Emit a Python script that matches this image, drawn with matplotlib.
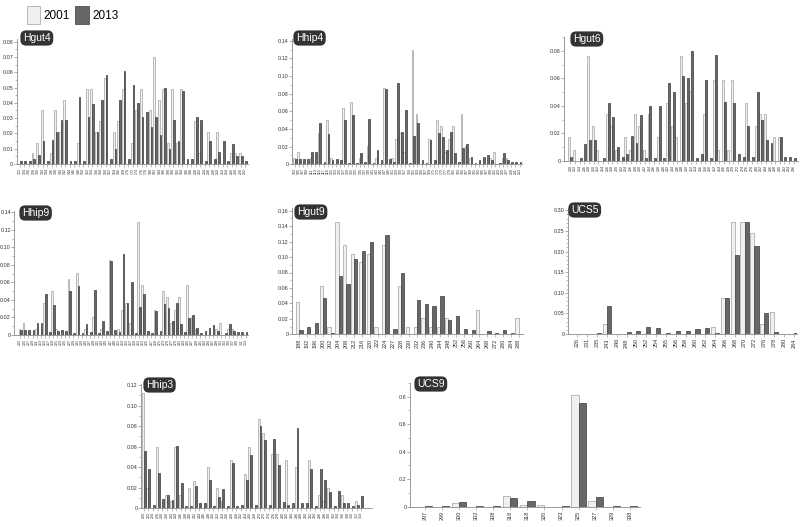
import matplotlib
matplotlib.use('Agg')
import matplotlib.pyplot as plt
import numpy as np
from matplotlib.ticker import MultipleLocator, AutoMinorLocator, FuncFormatter

plt.rcParams['font.family'] = ['Liberation Sans', 'DejaVu Sans']

# ---------------- data ----------------
hgut4_labels = "122 124 126 128 130 132 134 136 138 140 142 144 146 148 150 152 154 156 158 160 162 164 166 168 170 172 174 176 178 180 182 184 186 188 190 192 194 196 198 200 202 204 206 208 210 212 214 216 218 220 222".split()
hgut4_2001 = [0, 0, 0, .007, .014, .035, 0, .007, .035, .021, .042, 0, 0, .014, 0, .049, .049, .021, .028, .056,
              0, .021, .028, .049, 0, .014, .035, .049, 0, .035, .070, .042, .049, .014, .049, .014, .049, 0, 0, .028,
              .007, 0, .021, 0, .021, 0, 0, .007, .007, .007, 0]
hgut4_2013 = [.002, .002, .002, .003, .006, .015, .002, .016, .021, .029, .029, .002, .002, .044, .002, .031, .039, .021, .042, .058,
              .003, .010, .042, .061, .003, .052, .040, .031, .034, .024, .031, .019, .050, .010, .029, .015, .048, .003, .003, .031,
              .029, .002, .015, .003, .008, .015, .002, .013, .005, .005, .002]

hhip4_labels = "103 105 107 109 111 113 115 117 119 121 123 125 127 129 131 133 135 137 139 141 143 145 147 149 151 153 155 157 159 161 163 165 167 169 171 173 175 177 179 181 183 185 187 189 191 193 195 197 199 201 203 205 207 209 211 213".split()
hhip4_2001 = [.007, .014, 0, 0, .007, 0, .036, 0, .050, .007, 0, 0, .064, 0, .071, 0, .007, 0, .021, 0,
              .007, 0, .086, 0, .007, .029, .036, .014, 0, .129, .057, 0, 0, .029, 0, .050, .043, .014, .029, .043,
              0, .057, .021, .007, 0, 0, 0, 0, .007, .014, 0, .007, .007, 0, 0, 0]
hhip4_2013 = [.006, .006, .006, .006, .014, .014, .047, .003, .034, .005, .006, .005, .050, .002, .056, .002, .013, .003, .051, .002,
              .016, .005, .085, .006, .003, .092, .037, .061, .002, .032, .047, .005, .002, .027, .005, .035, .031, .016, .037, .013,
              .003, .019, .023, .008, .002, .005, .008, .011, .005, 0, .002, .013, .005, .003, .003, .003]

hgut6_labels = "200 202 204 206 208 210 212 214 216 218 220 222 224 226 228 230 232 234 236 238 240 242 244 246 248 250 252 254 256 258 260 262 264 266 268 270 272 274 276 278 280 282 284 286 288 290 292 294 296".split()
hgut6_2001 = [.017, .008, 0, 0, .076, .025, .008, 0, .034, .025, .008, 0, .017, .008, .034, .025, .008, .034, 0, .017,
              0, .042, .025, .017, .076, .042, .051, 0, 0, .034, 0, .059, .008, .059, .008, .059, 0, 0, .042, 0,
              .025, .034, .034, 0, .017, .017, 0, 0, 0]
hgut6_2013 = [.003, 0, .002, .012, .015, .015, 0, .002, .042, .032, .010, .003, .005, .018, .013, .033, .002, .040, .002, .040,
              .002, .057, .050, 0, .062, .060, .080, .002, .005, .059, .002, .077, 0, .043, 0, .042, .005, .003, .025, .003,
              .050, .030, .015, .013, 0, .017, .003, .003, .002]

hhip9_labels = "203 205 207 209 211 213 215 217 219 221 223 225 227 229 231 233 235 237 239 241 243 245 247 249 251 253 255 257 259 261 263 265 267 269 271 273 275 277 279 281 283 285 287 289 291 293 295 297 299 301 303 305 307 309 311 313".split()
hhip9_2001 = hhip4_2001
hhip9_2013 = hhip4_2013

hgut9_labels = ["188", "192", "196", "200", "202", "204", "208", "212", "216", "220", "222", "224", "227", "228", "230",
                "232", "236", "240", "244", "248", "252", "256", "260", "264", "268", "272", "280", "284", "288"]
hgut9_2001 = [.042, 0, 0, .063, .010, .146, .115, .104, .094, .104, .010, .115, 0, .063, .010,
              .010, .021, .010, .010, .021, 0, 0, 0, .031, 0, 0, 0, 0, .021]
hgut9_2013 = [.006, .009, .015, .047, .002, .076, .065, .097, .108, .119, 0, .129, .007, .080, 0,
              .045, .039, .037, .049, .019, .024, .007, .006, 0, .004, .002, .006, .002, 0]

ucs5_labels = ["226", "231", "235", "243", "246", "248", "250", "252", "254", "255", "256", "258", "260", "262",
               "264", "266", "268", "270", "272", "276", "278", "280", "284"]
ucs5_2001 = [0, 0, 0, .025, 0, 0, 0, 0, 0, 0, 0, 0, 0, 0, .018, .088, .272, .272, .245, .025, .053, 0, 0]
ucs5_2013 = [.001, .001, .002, .067, .001, .004, .008, .017, .015, .003, .008, .008, .013, .015, .003, .088, .192, .272, .214, .051, .006, .001, .002]

hhip3_labels = "220 222 224 226 228 230 232 234 236 238 240 242 244 246 248 250 252 254 256 258 260 262 264 266 268 270 272 274 276 278 280 282 284 286 288 290 292 294 296 298 300 302 304 306 308 310 312 314".split()
hhip3_2001 = [.112, .020, 0, .060, 0, .013, .007, .060, .013, 0, .020, .027, 0, 0, .040, 0, .020, .007, 0, .047,
              0, 0, .033, .060, 0, .087, .073, 0, .053, .053, 0, .047, 0, .040, 0, 0, .047, 0, .013, .007,
              .020, 0, 0, .013, 0, 0, .007, 0]
hhip3_2013 = [.056, .038, .003, .034, .009, .013, .008, .061, .025, .002, .002, .022, .005, .005, .028, .002, .011, .019, .002, .044,
              .002, .003, .028, .052, .003, .080, .066, .003, .067, .042, .006, .003, .005, .078, .005, .005, .038, .002, .038, .028,
              .016, .002, .017, .005, .005, .002, .003, .012]

ucs9_labels = ["297", "299", "300", "302", "308", "316", "318", "320", "323", "325", "327", "329", "338"]
ucs9_2001 = [0, 0, .025, 0, 0, .078, .016, .016, 0, .810, .045, 0, 0]
ucs9_2013 = [.004, .004, .032, .004, .004, .066, .045, 0, .004, .752, .074, .004, .004]

# ---------------- style ----------------
LIGHT, LIGHT_EDGE = '#f0f0f0', '#a0a0a0'
DARK, DARK_EDGE = '#676767', '#3c3c3c'
AXC = '#8a8a8a'
W, H = 800, 527

fig = plt.figure(figsize=(8, 5.27), dpi=100)


def fmt_factory(dec):
    def f(v, pos):
        if abs(v) < 1e-12:
            return '0'
        return f'{v:.{dec}f}'
    return FuncFormatter(f)


handles = None


def panel(name, labels, v01, v13, l, r, y0, ref_val, ref_px, ymax, xlim, major, nminor, dec, xfs, title_px):
    global handles
    top = y0 - (y0 - ref_px) * ymax / ref_val
    ax = fig.add_axes([l / W, 1 - y0 / H, (r - l) / W, (y0 - top) / H])
    x = np.arange(len(labels))
    w = 0.42
    b1 = ax.bar(x - w / 2, v01, w, color=LIGHT, edgecolor=LIGHT_EDGE, linewidth=0.5)
    b2 = ax.bar(x + w / 2, v13, w, color=DARK, edgecolor=DARK_EDGE, linewidth=0.5)
    handles = (b1, b2)
    ax.set_xlim(*xlim)
    ax.set_ylim(0, ymax)
    ax.set_xticks(x)
    ax.set_xticklabels(labels, rotation=90, fontsize=xfs, color='#333333')
    ax.yaxis.set_major_locator(MultipleLocator(major))
    ax.yaxis.set_minor_locator(AutoMinorLocator(nminor))
    ax.yaxis.set_major_formatter(fmt_factory(dec))
    ax.tick_params(axis='y', labelsize=3.9, colors=AXC, labelcolor='#333333', length=2, width=0.5, pad=0.6)
    ax.tick_params(axis='y', which='minor', length=1.3, width=0.4, colors=AXC)
    ax.tick_params(axis='x', length=2, width=0.4, colors=AXC, labelcolor='#333333', pad=1)
    for s in ('top', 'right'):
        ax.spines[s].set_visible(False)
    for s in ('left', 'bottom'):
        ax.spines[s].set_color(AXC)
        ax.spines[s].set_linewidth(0.6)
    ax.patch.set_alpha(0)
    tx, ty = title_px
    fig.text(tx / W, 1 - ty / H, name, color='white', fontsize=7.5, ha='left', va='center',
             bbox=dict(boxstyle='round,pad=0.25,rounding_size=0.55', fc='#333333', ec='none'))
    return ax


panel('Hgut4', hgut4_labels, hgut4_2001, hgut4_2013, 16.7, 248.3, 164, 0.08, 41.7, 0.0815, (-0.73, 50.7), 0.01, 2, 2, 2.6, (23, 38))
panel('Hhip4', hhip4_labels, hhip4_2001, hhip4_2013, 292.3, 522, 164.3, 0.14, 40.7, 0.142, (-0.65, 55.6), 0.02, 2, 2, 2.6, (296, 38))
panel('Hgut6', hgut6_labels, hgut6_2001, hgut6_2013, 564.3, 798, 160.7, 0.08, 51, 0.09, (-1.3, 48.9), 0.02, 2, 2, 2.6, (573, 39))
panel('Hhip9', hhip9_labels, hhip9_2001, hhip9_2013, 14.5, 248, 335, 0.14, 212.3, 0.142, (-1.4, 55.6), 0.02, 2, 2, 2.6, (22, 213))
panel('Hgut9', hgut9_labels, hgut9_2001, hgut9_2013, 292.3, 523.3, 334.3, 0.16, 210.7, 0.163, (-0.9, 28.6), 0.02, 2, 2, 4, (297, 212))
panel('UCS5', ucs5_labels, ucs5_2001, ucs5_2013, 568.3, 796.7, 334, 0.30, 210.3, 0.305, (-0.92, 22.3), 0.05, 5, 2, 4, (571, 210))
panel('Hhip3', hhip3_labels, hhip3_2001, hhip3_2013, 141, 372, 508.3, 0.12, 385, 0.121, (-0.6, 49.3), 0.02, 2, 2, 2.6, (146, 385))
panel('UCS9', ucs9_labels, ucs9_2001, ucs9_2013, 410, 640, 506.7, 0.8, 396.7, 0.9, (-0.88, 12.6), 0.2, 2, 1, 4, (417, 384))

fig.legend(handles, ['2001', '2013'], loc='upper left', bbox_to_anchor=(0.02, 1.008), ncol=2, frameon=False,
           fontsize=8.5, handlelength=1.15, handleheight=1.9, columnspacing=0.5, handletextpad=0.25)

fig.savefig('out.png', dpi=100)
